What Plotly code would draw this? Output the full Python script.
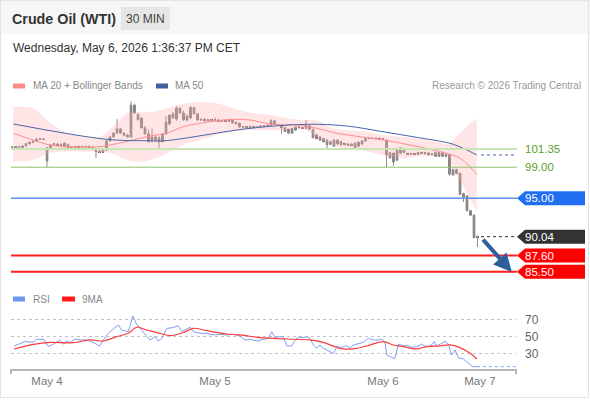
import plotly.graph_objects as go

W, H = 590, 400

# 30 min bars, index 0 = first bar on screen
opens = [
    101.6, 101.55, 101.65, 101.45, 101.75, 102.05, 102.2, 102.35, 102.65, 102.6,
    99.8, 101.5, 101.9, 102.0, 101.85, 102.1, 101.95, 101.4, 101.65, 101.6,
    101.7, 101.65, 101.68, 101.6, 101.3, 101.05, 100.95, 101.2, 102.4, 102.9,
    103.4, 103.95, 103.4, 103.1, 102.9, 107.0, 105.8, 105.3, 104.1, 103.3,
    102.4, 102.9, 102.8, 102.3, 103.3, 104.6, 105.9, 105.2, 106.6, 106.0,
    105.1, 105.4, 106.7, 105.9, 105.1, 105.2, 105.0, 105.1, 105.0, 105.1,
    104.95, 105.05, 104.95, 105.1, 104.8, 104.65, 104.2, 104.15, 104.2, 104.1,
    104.2, 104.25, 104.3, 104.35, 104.4, 105.0, 104.5, 104.4, 104.1, 103.9,
    103.4, 103.8, 104.2, 104.1, 104.0, 104.35, 103.9, 103.2, 102.9, 102.7,
    102.5, 101.95, 101.7, 102.0, 102.3, 101.9, 102.0, 102.0, 102.1, 101.7,
    102.0, 102.4, 102.7, 102.75, 102.7, 102.75, 102.65, 102.5, 100.9, 100.8,
    99.9, 100.8, 101.4, 100.8, 100.7, 100.75, 100.7, 100.9, 100.75, 100.85,
    100.6, 100.9, 100.4, 100.9, 100.7, 100.6, 98.0, 98.7, 98.2, 95.6,
    95.3, 93.4, 92.8, 89.95,
]
highs = [
    101.75, 101.7, 101.8, 101.85, 102.15, 102.3, 102.5, 102.75, 102.7, 102.68,
    101.6, 102.0, 102.1, 102.1, 102.05, 102.2, 102.05, 101.75, 101.8, 101.75,
    101.8, 101.75, 101.8, 101.7, 101.4, 101.2, 101.3, 102.5, 103.0, 103.5,
    105.2, 104.1, 103.5, 103.3, 107.5, 107.2, 106.0, 105.5, 104.3, 103.9,
    104.0, 103.1, 103.0, 103.4, 105.6, 105.8, 106.1, 106.9, 106.8, 106.3,
    105.8, 106.9, 106.8, 106.0, 105.25, 105.3, 105.15, 105.2, 105.4, 105.2,
    105.1, 105.15, 105.2, 105.2, 104.9, 104.75, 104.3, 104.25, 104.3, 104.25,
    104.3, 104.4, 104.45, 104.5, 105.2, 105.1, 104.6, 104.5, 104.2, 104.0,
    104.1, 104.3, 104.25, 104.2, 105.1, 104.45, 104.0, 103.3, 103.0, 102.8,
    102.6, 102.4, 102.6, 102.6, 102.4, 102.1, 102.05, 102.1, 102.2, 102.3,
    102.5, 102.8, 102.8, 102.85, 102.8, 102.85, 102.75, 102.6, 101.0, 100.9,
    101.3, 101.6, 101.5, 100.85, 100.8, 100.85, 100.95, 101.0, 100.9, 100.9,
    100.8, 101.0, 101.0, 101.05, 100.8, 100.7, 98.8, 98.8, 98.3, 95.7,
    95.4, 93.5, 92.9, 90.2,
]
lows = [
    101.45, 101.4, 101.3, 101.35, 101.65, 101.9, 102.1, 102.25, 102.55, 102.55,
    99.03, 101.4, 101.75, 101.8, 101.8, 101.6, 101.3, 101.3, 101.5, 101.5,
    101.6, 101.55, 101.55, 101.2, 100.2, 100.85, 100.9, 101.1, 102.3, 102.8,
    103.3, 103.3, 103.0, 102.8, 102.8, 105.9, 105.0, 104.0, 103.2, 102.2,
    102.2, 102.35, 101.5, 102.2, 103.2, 104.4, 105.3, 105.0, 105.9, 105.0,
    104.9, 105.2, 105.8, 105.0, 104.95, 104.95, 104.9, 104.95, 104.9, 104.9,
    104.85, 104.9, 104.9, 104.65, 104.55, 104.1, 104.05, 104.0, 104.05, 104.0,
    104.1, 104.15, 104.2, 104.25, 104.3, 104.45, 104.3, 103.3, 103.55, 103.3,
    103.3, 103.7, 104.0, 104.0, 103.95, 103.85, 102.75, 102.6, 102.4, 102.2,
    101.2, 101.85, 101.6, 101.9, 101.8, 101.85, 101.8, 101.7, 101.45, 101.6,
    101.9, 102.3, 102.6, 102.65, 102.6, 102.6, 102.55, 99.0, 100.1, 99.2,
    99.8, 100.7, 100.85, 100.6, 100.6, 100.65, 100.65, 100.7, 100.6, 100.5,
    100.5, 100.35, 100.3, 100.35, 100.3, 97.9, 97.9, 98.1, 95.4, 94.5,
    93.3, 92.7, 89.85, 88.7,
]
closes = [
    101.55, 101.65, 101.45, 101.75, 102.05, 102.2, 102.35, 102.65, 102.6, 102.62,
    101.5, 101.9, 102.0, 101.85, 101.95, 101.65, 101.35, 101.65, 101.6, 101.7,
    101.65, 101.68, 101.6, 101.3, 101.05, 100.95, 101.2, 102.4, 102.9, 103.4,
    103.95, 103.4, 103.1, 102.9, 107.0, 106.0, 105.15, 104.1, 103.3, 102.3,
    102.9, 102.45, 102.3, 103.3, 104.8, 105.7, 105.35, 106.6, 106.0, 105.1,
    105.6, 106.7, 105.9, 105.1, 105.2, 105.0, 105.1, 105.0, 105.1, 104.95,
    105.05, 104.95, 105.1, 104.7, 104.6, 104.2, 104.15, 104.2, 104.1, 104.2,
    104.25, 104.3, 104.35, 104.4, 105.0, 104.5, 104.4, 104.1, 103.6, 103.4,
    104.0, 104.2, 104.1, 104.05, 104.4, 103.9, 102.8, 102.7, 102.5, 102.3,
    101.9, 102.3, 102.5, 102.5, 101.9, 102.0, 101.85, 101.8, 101.5, 102.2,
    102.4, 102.7, 102.75, 102.7, 102.75, 102.65, 102.6, 100.6, 100.2, 99.7,
    101.2, 101.5, 100.9, 100.7, 100.75, 100.7, 100.9, 100.75, 100.85, 100.6,
    100.7, 100.4, 100.9, 100.4, 100.4, 98.1, 98.7, 98.2, 95.5, 95.2,
    93.4, 92.8, 89.9, 90.04,
]

ma20_idx = [0.4, 6, 10.9, 15.6, 25.1, 28, 34.6, 39.4, 44.2, 48.9, 53.7, 58.5, 63.2,
            68, 73.7, 77.4, 82.3, 87.1, 92.8, 99.4, 106.1, 113.7, 120.4, 127.1, 129.9, 132.8]
ma20_val = [103.38, 102.51, 101.87, 101.65, 101.65, 101.87, 102.51, 103.03, 103.38, 104.23,
            104.67, 105.0, 105.18, 105.09, 104.58, 104.45, 104.45, 104.02, 103.38, 102.94,
            102.51, 101.87, 101.22, 100.36, 99.5, 98.0]

bb_up_idx = [0.3, 6, 8.9, 15.6, 21.3, 25.1, 28.9, 32.8, 36.6, 40.3, 44.2, 49.9, 53.7, 58.5,
             63.2, 68, 73.7, 82.3, 87.1, 91.7, 101.3, 106.1, 115.6, 121.3, 125.1, 127.1, 129.9, 132.8]
bb_up_val = [106.81, 106.64, 105.52, 103.41, 102.94, 102.94, 104.23, 105.96, 106.16, 106.16,
             106.6, 107.25, 107.45, 107.25, 106.6, 106.06, 105.74, 105.09, 105.0, 104.02,
             103.58, 103.16, 102.73, 102.29, 102.08, 102.94, 104.23, 105.31]

bb_lo_idx = [0.3, 6, 10.9, 20.3, 28, 32.8, 36.6, 41.3, 44.2, 48.9, 53.7, 58.5, 63.2, 68,
             77.4, 82.3, 87.1, 92.8, 99.4, 106.1, 110.9, 115.6, 120.4, 124.2, 126, 128.9, 132.8]
bb_lo_val = [99.71, 99.93, 100.83, 101.0, 100.83, 99.93, 99.71, 100.15, 100.8, 101.87,
             102.51, 103.16, 103.58, 103.8, 103.8, 104.02, 102.94, 101.65, 101.22, 100.58,
             100.15, 100.36, 100.58, 100.58, 99.07, 96.49, 93.35]

ma50_idx = [0.4, 27.1, 38.5, 43.7, 68, 84.2, 95.6, 106, 115.6, 125.1, 128.9, 132.8]
ma50_val = [104.58, 102.6, 102.42, 102.42, 104.02, 104.54, 104.32, 103.58, 102.86, 102.09,
            101.44, 100.58]

# RSI and its 9MA
rsi_idx = [0.6, 2.3, 3.7, 6.1, 7.0, 9.0, 10.4, 11.8, 13.7, 14.7, 15.6, 16.6, 18.0, 19.4,
           21.3, 22.8, 23.7, 25.0, 26.1, 27.5, 29.4, 30.4, 31.3, 33.2, 33.7, 34.5, 35.6,
           37.5, 39.4, 40.9, 41.8, 42.8, 44.2, 46.1, 47.5, 48.5, 49.4, 50.9, 51.8, 53.7,
           55.6, 57.5, 59.4, 61.3, 63.2, 65.1, 66.6, 68.0, 69.9, 71.8, 73.2, 74.2, 75.1,
           76.6, 77.5, 78.5, 79.9, 80.9, 81.8, 83.2, 84.2, 85.1, 86.1, 87.0, 88.0, 88.9,
           90.4, 91.8, 92.8, 94.2, 95.6, 96.6, 97.5, 98.9, 100.4, 101.8, 103.2, 104.7,
           105.6, 106.6, 107.1, 108.5, 109.4, 110.4, 111.8, 113.2, 114.2, 115.6, 117.0,
           118.0, 119.4, 120.6, 121.3, 122.8, 123.7, 124.7, 125.6, 126.6, 127.5, 129.0,
           130.4, 131.6, 132.8]
rsi_val = [39.4, 42.5, 44.5, 43.7, 47.3, 47.3, 38.6, 41.4, 46.5, 41.4, 45.3, 43.3, 47.6,
           46.5, 46.5, 44.5, 42.5, 39.4, 46.5, 54.3, 61.0, 64.1, 58.2, 56.3, 62.2, 74.7,
           64.9, 56.3, 46.5, 50.4, 45.3, 48.4, 60.2, 61.0, 63.3, 56.3, 58.2, 61.4, 56.3,
           54.3, 54.3, 52.4, 53.1, 52.4, 53.1, 51.2, 46.5, 47.3, 45.3, 47.6, 48.4, 56.3,
           49.6, 50.4, 50.4, 39.4, 39.4, 46.5, 49.6, 49.2, 50.4, 48.4, 40.6, 36.7, 40.6,
           36.7, 33.5, 30.8, 38.6, 37.8, 39.8, 36.7, 40.6, 42.5, 43.7, 48.4, 46.5, 46.5,
           47.6, 42.5, 28.8, 25.7, 24.9, 41.4, 39.8, 39.8, 37.8, 38.6, 41.4, 39.4, 38.6,
           44.5, 39.4, 42.5, 45.3, 41.4, 28.8, 34.7, 25.7, 24.1, 19.0, 15.1, 15.1]

ma9_idx = [0.6, 6.1, 10.9, 17.5, 22.3, 26.1, 29.9, 33.2, 35.6, 38.5, 42.3, 45.1, 48.9,
           51.8, 55.6, 61.3, 65.1, 70.9, 74.7, 78.5, 85.1, 88.9, 93.7, 97.5, 101.3, 106.1,
           108.9, 111.8, 115.6, 118.5, 122.3, 125.1, 128.0, 130.9, 132.8]
ma9_val = [35.9, 41.4, 43.7, 43.3, 46.5, 45.3, 50.4, 54.3, 61.4, 58.2, 54.3, 51.6, 55.1,
           60.2, 57.4, 53.5, 52.4, 49.2, 48.4, 47.6, 46.5, 43.7, 36.7, 35.9, 39.4, 44.5,
           40.6, 38.6, 35.9, 38.6, 39.4, 40.6, 37.5, 30.8, 24.1]

date_ticks = [10, 58, 106, 133.7]
date_labels = ["May 4", "May 5", "May 6", "May 7"]

support_resist = [101.35, 99.00, 95.00, 87.60, 85.50]
target = 85.50

FONT = "Liberation Sans, Arial, sans-serif"
UP, DOWN, WICK = "#2a7a2e", "#e01e1e", "#8c8c8c"


def px(v):
    return v / W


def py(v):
    return 1 - v / H


bars = list(range(len(closes)))
fig = go.Figure()

# Bollinger band fill
fig.add_trace(go.Scatter(x=bb_up_idx, y=bb_up_val, mode="lines", line=dict(width=0, shape="spline"),
                         hoverinfo="skip", showlegend=False))
fig.add_trace(go.Scatter(x=bb_lo_idx, y=bb_lo_val, mode="lines", line=dict(width=0, shape="spline"),
                         fill="tonexty", fillcolor="rgba(255,170,170,0.3)",
                         hoverinfo="skip", showlegend=False))
fig.add_trace(go.Scatter(x=ma20_idx, y=ma20_val, mode="lines",
                         line=dict(color="#ff8c8c", width=1, shape="spline"), showlegend=False))
fig.add_trace(go.Scatter(x=ma50_idx, y=ma50_val, mode="lines",
                         line=dict(color="#4767a8", width=1, shape="spline"), showlegend=False))

# grey wicks (and doji dashes) first, coloured bodies on top
fig.add_trace(go.Candlestick(
    x=bars, open=opens, high=highs, low=lows, close=closes,
    increasing=dict(line=dict(color=WICK, width=1), fillcolor=WICK),
    decreasing=dict(line=dict(color=WICK, width=1), fillcolor=WICK),
    whiskerwidth=0, showlegend=False, hoverinfo="skip",
))
body_base = [min(o, c) for o, c in zip(opens, closes)]
body_size = [abs(c - o) for o, c in zip(opens, closes)]
body_col = [UP if c >= o else DOWN for o, c in zip(opens, closes)]
fig.add_trace(go.Bar(x=bars, y=body_size, base=body_base, width=0.8,
                     marker=dict(color=body_col, line=dict(width=0)), showlegend=False))

# RSI panel
fig.add_trace(go.Scatter(x=rsi_idx, y=rsi_val, mode="lines", xaxis="x2", yaxis="y2",
                         line=dict(color="#7d9ff0", width=1), showlegend=False))
fig.add_trace(go.Scatter(x=ma9_idx, y=ma9_val, mode="lines", xaxis="x2", yaxis="y2",
                         line=dict(color="#ff3b3b", width=1.2, shape="spline"), showlegend=False))
fig.add_trace(go.Scatter(x=[rsi_idx[-1], 144], y=[rsi_val[-1], rsi_val[-1]], mode="lines",
                         xaxis="x2", yaxis="y2", line=dict(color="#7d9ff0", width=1, dash="dot"),
                         showlegend=False))

xdom = [px(11), px(516)]
xrng = [-0.29, 144]
fig.update_layout(
    width=W, height=H, margin=dict(l=0, r=0, t=0, b=0),
    paper_bgcolor="white", plot_bgcolor="rgba(0,0,0,0)",
    font=dict(family=FONT, color="#555"),
    bargap=0,
    xaxis=dict(domain=xdom, range=xrng, visible=False, rangeslider=dict(visible=False)),
    yaxis=dict(domain=[py(282), py(95)], range=[84.19, 108.32], visible=False),
    xaxis2=dict(domain=xdom, range=xrng, anchor="y2", showline=True, linecolor="#b5b5b5",
                linewidth=2, showgrid=False, zeroline=False, tickvals=date_ticks,
                ticktext=date_labels, ticks="", tickfont=dict(size=11.5, color="#777")),
    yaxis2=dict(domain=[py(369), py(305)], range=[12.35, 87.6], anchor="x2", side="right",
                tickvals=[30, 50, 70], showgrid=True, gridcolor="#c4c4c4", griddash="dot",
                gridwidth=1, zeroline=False, showline=False, ticks="",
                ticklabelstandoff=8, tickfont=dict(size=12, color="#666")),
)

shapes = []
# header band and frame
shapes.append(dict(type="rect", xref="paper", yref="paper", x0=0, x1=1, y0=py(34), y1=1,
                   fillcolor="#f6f6f6", line=dict(width=0), layer="below"))
shapes.append(dict(type="rect", xref="paper", yref="paper", x0=px(0.5), x1=px(588.5),
                   y0=py(397.5), y1=py(0.5), line=dict(color="#e4e4e4", width=1)))
shapes.append(dict(type="rect", xref="paper", yref="paper", x0=px(121), x1=px(170),
                   y0=py(30), y1=py(7), fillcolor="#e6e6e6", line=dict(width=0)))

# legend swatches
for x0, x1, yy, col in [(13, 25, 86, "#ff8a8a"), (156, 168, 86, "#3f5f9f"),
                        (13, 25, 299, "#6f94ea"), (62, 75, 299, "#ff1a1a")]:
    shapes.append(dict(type="rect", xref="paper", yref="paper", x0=px(x0), x1=px(x1),
                       y0=py(yy + 2.5), y1=py(yy - 2.5), fillcolor=col, line=dict(width=0)))

# horizontal levels
level_style = {101.35: ("#c9e4b5", 2), 99.00: ("#8dc466", 1), 95.00: ("#5d8ff0", 1.5),
               87.60: ("#ff1f1f", 2), 85.50: ("#ff1f1f", 2)}
for lv in support_resist:
    col, wd = level_style[lv]
    shapes.append(dict(type="line", xref="paper", yref="y", x0=px(11), x1=px(517), y0=lv, y1=lv,
                       line=dict(color=col, width=wd)))

# dotted markers for last close and MA50
shapes.append(dict(type="line", xref="x", yref="y", x0=134, x1=143.5, y0=closes[-1], y1=closes[-1],
                   line=dict(color="#333", width=1, dash="dot")))
shapes.append(dict(type="line", xref="x", yref="y", x0=134, x1=143.5, y0=ma50_val[-1], y1=ma50_val[-1],
                   line=dict(color="#4767a8", width=1, dash="dot")))

# end ticks on the RSI time axis
for xe in (11, 516):
    shapes.append(dict(type="line", xref="paper", yref="paper", x0=px(xe), x1=px(xe),
                       y0=py(369), y1=py(374), line=dict(color="#b5b5b5", width=2)))


def tag(price, color):
    half = 0.9
    path = (f"M {px(517)},{price} L {px(525)},{price + half} L {px(585)},{price + half} "
            f"L {px(585)},{price - half} L {px(525)},{price - half} Z")
    shapes.append(dict(type="path", xref="paper", yref="y", path=path,
                       fillcolor=color, line=dict(width=0)))


tag(95.00, "#1f6ff0")
tag(closes[-1], "#333333")
tag(87.60, "#ff0000")
tag(85.50, "#ff0000")
fig.update_layout(shapes=shapes)

ann = []


def text(x, y, s, size, color, anchor="left", bold=False, yref="paper"):
    ann.append(dict(xref="paper", yref=yref, x=px(x), y=py(y) if yref == "paper" else y,
                    text=f"<b>{s}</b>" if bold else s, showarrow=False, xanchor=anchor,
                    yanchor="middle", font=dict(size=size, color=color, family=FONT)))


text(10, 19, "Crude Oil (WTI)", 14.3, "#333", bold=True)
text(145.5, 19, "30 MIN", 12, "#444", anchor="center")
text(11, 48, "Wednesday, May 6, 2026 1:36:37 PM CET", 12, "#333")
text(31, 86, "MA 20 + Bollinger Bands", 10, "#888")
text(173, 86, "MA 50", 10, "#888")
text(583, 86, "Research © 2026 Trading Central", 10, "#9a9a9a", anchor="right")
text(31, 299, "RSI", 10, "#888")
text(80, 299, "9MA", 10, "#888")

text(523, 101.35, "101.35", 11.5, "#5ca12a", yref="y")
text(523, 99.00, "99.00", 11.5, "#5ca12a", yref="y")
for lv in (95.00, closes[-1], 87.60, 85.50):
    text(523, lv, f"{lv:.2f}", 11.5, "white", yref="y")

# projected move arrow
ann.append(dict(xref="x", yref="y", axref="x", ayref="y", x=142.8, y=target, ax=134.2, ay=89.85,
                text="", showarrow=True, arrowhead=2, arrowsize=0.9, arrowwidth=4,
                arrowcolor="#2f5e9e"))
fig.update_layout(annotations=ann)

# page has a default body margin; drop it so the figure sits at 0,0
fig.write_html("out.html", config={"displayModeBar": False},
               post_script="document.body.style.margin='0';")
